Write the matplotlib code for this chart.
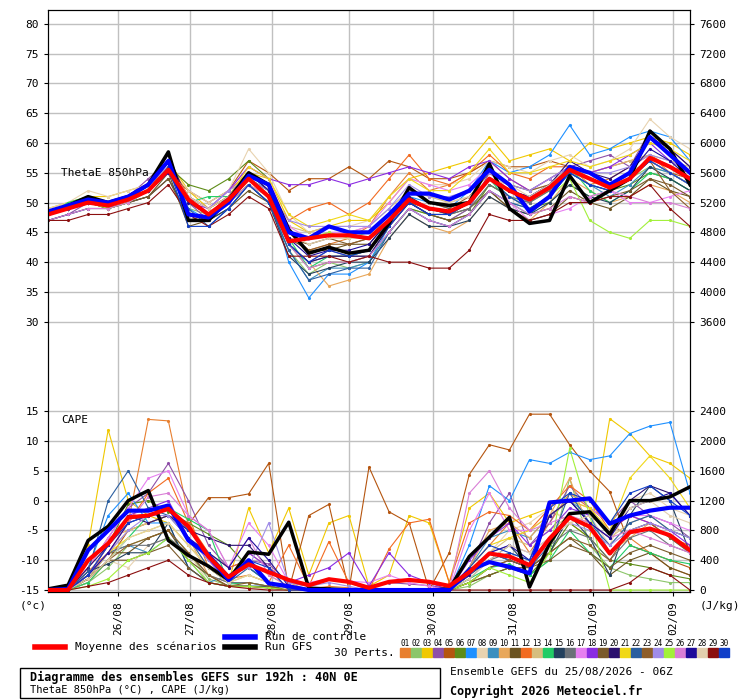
import matplotlib
matplotlib.use("Agg")
import matplotlib.pyplot as plt
import numpy as np

hours = np.arange(0, 193, 6)
date_labels = ["26/08", "27/08", "28/08", "29/08", "30/08", "31/08", "01/09", "02/09"]
date_hours = [21, 42.5, 67, 90, 115, 139, 163, 187]

colors = ["#e87f2f", "#8cc66a", "#f0c800", "#8e4fa8", "#b5550f", "#5e8c18", "#1e90ff", "#e8d3b0",
          "#3b8fbf", "#e8a75a", "#6b5320", "#f26b21", "#d6be7e", "#22cc66", "#23415e", "#6b7178",
          "#e680f0", "#8a2be2", "#7a5a2a", "#2a0f6e", "#f0d818", "#2b5fa0", "#8e5e2a", "#a08ce8",
          "#a2f03a", "#d97ed6", "#1e0a9a", "#e2cfae", "#8b0f0f", "#0f3ec9"]

theta_mean = [48,49,50,49.5,50.5,52,55.5,50.5,48,50.5,54,51,43.5,44,44.5,44.5,44,47,50.5,49,48.5,50,54,52,50.5,52.5,55.5,54,52.5,54,57.5,56,54]
theta_ctrl = [48.5,49.5,50.5,50,51,53,57,48,47.5,50,54.5,53,45,44,46,45,45,48,51.5,51.5,50.5,52,55.5,53,48.5,51,56,55,53,55,61,58,55]
theta_gfs = [48,49.5,51,50,51,53,58.5,47,47,50.5,55,53,45.5,41.5,42.5,41.5,42,46.5,52.5,50,49.5,50,56.5,49,46.5,47,54.5,50,52,54,62,59,53]

theta_members = [
[48,49,51,50,51,53,57,51,49,52,55,53,45,42,43,44,46,51,55,52,53,55,57,54,52,54,56,53,54,56,58,55,53],
[48,49,50,49,50,52,56,49,48,50,53,50,42,38,40,39,40,45,49,48,47,49,53,51,50,52,55,54,53,54,56,55,53],
[49,50,51,51,52,53,57,52,49,51,55,54,47,45,46,47,47,50,54,55,56,57,61,57,58,59,57,60,59,60,61,60,58],
[47,48,50,49,51,54,57,50,47,51,55,52,43,40,42,41,42,46,50,48,47,49,55,52,50,53,56,57,58,56,62,59,56],
[48,49,50,50,51,52,55,52,50,52,57,55,52,54,54,56,54,57,56,54,54,55,57,56,56,57,56,54,53,55,57,55,54],
[48,49,50,50,51,52,56,53,52,54,57,54,43,39,40,40,41,45,49,48,47,48,53,51,49,50,53,51,52,53,55,54,52],
[48,49,51,50,51,53,57,49,47,50,54,52,40,34,38,38,40,46,51,50,49,52,57,55,56,58,63,58,59,61,62,61,57],
[49,50,52,51,52,53,56,52,50,52,59,55,48,45,46,46,47,51,54,53,53,54,57,56,55,57,58,56,57,59,64,61,59],
[47,48,49,49,50,52,55,50,48,50,53,50,42,37,39,39,40,45,49,47,46,48,52,50,49,51,55,53,51,53,56,55,53],
[48,49,50,50,51,52,55,50,48,50,53,51,43,40,36,37,38,44,48,46,45,47,51,49,47,50,54,52,50,51,53,52,50],
[48,49,50,49,50,51,55,46,47,49,52,50,44,42,42,43,43,47,50,49,48,49,52,49,48,49,52,50,49,51,54,52,51],
[48,49,50,50,51,52,57,51,49,51,54,52,47,49,50,48,50,54,58,54,53,55,58,55,54,56,56,55,56,57,58,56,55],
[48,49,50,50,51,52,55,51,49,51,55,53,46,45,46,45,46,49,52,51,50,51,54,53,52,53,55,55,56,57,58,57,56],
[48,50,51,50,51,52,56,50,51,51,54,52,44,39,41,41,42,47,51,49,48,50,54,50,48,51,56,52,50,52,55,54,52],
[47,48,49,49,50,51,54,48,47,49,53,50,41,38,39,40,40,44,48,46,46,47,51,49,48,50,53,51,50,52,56,54,52],
[48,49,50,50,51,52,55,50,48,50,54,51,43,40,41,41,41,46,50,48,48,49,53,51,50,52,55,53,52,54,57,55,53],
[48,49,50,50,51,53,56,51,49,52,56,54,46,44,45,45,46,50,54,53,52,53,56,50,47,48,49,51,52,50,50,51,52],
[48,49,50,50,51,53,56,50,49,52,56,54,53,53,54,53,54,55,56,55,54,56,57,54,52,54,56,55,56,58,60,57,55],
[48,49,50,49,50,51,54,47,48,50,53,50,44,43,44,43,44,47,50,48,47,48,52,49,47,48,51,50,51,52,54,53,51],
[48,49,50,50,51,53,58,50,48,51,55,52,43,40,41,41,41,46,50,48,48,50,54,52,51,53,57,55,54,56,61,59,56],
[48,49,50,50,51,52,56,50,48,51,56,54,48,46,47,48,47,51,54,52,52,55,59,55,55,56,57,56,57,58,60,59,57],
[48,49,50,50,51,52,55,49,46,49,53,50,42,37,38,39,39,45,49,47,46,48,52,50,49,51,55,53,52,54,57,55,53],
[48,49,50,50,51,52,56,51,49,51,55,52,45,42,43,43,44,48,52,50,49,51,55,53,52,53,56,54,53,55,57,52,49],
[48,49,50,50,51,52,56,51,49,52,54,52,47,46,46,46,46,49,53,51,51,52,55,53,52,54,56,55,55,56,58,57,55],
[48,49,50,49,50,52,56,50,48,50,53,51,45,44,45,44,45,48,51,49,48,50,54,51,49,51,54,47,45,44,47,47,46],
[47,48,49,49,50,52,55,50,48,50,53,51,43,39,40,40,41,45,49,47,46,48,52,50,48,49,51,50,52,51,50,50,49],
[48,49,50,50,51,52,55,50,48,51,55,52,44,41,42,42,43,47,51,49,48,50,54,52,51,53,56,54,53,55,59,57,54],
[48,49,51,50,51,53,56,51,49,51,55,53,45,43,44,44,44,48,52,50,50,51,54,53,51,53,56,54,53,55,57,55,53],
[47,47,48,48,49,50,53,48,46,48,51,49,41,41,41,40,41,40,40,39,39,42,48,47,47,48,50,50,51,51,53,49,46],
[48,49,50,50,51,52,56,46,46,49,53,50,43,40,42,41,42,46,50,48,48,50,54,51,49,51,55,53,52,54,57,55,53],
]

cape_mean = [0,0,400,625,975,1000,1090,850,450,175,345,240,135,65,145,110,30,110,135,110,55,240,490,450,335,690,975,850,490,775,825,735,535]
cape_ctrl = [0,15,535,800,1065,1065,1135,665,465,135,400,90,50,0,0,0,0,0,0,0,0,265,375,310,225,1175,1200,1230,890,1000,1065,1105,1105]
cape_gfs = [15,65,665,855,1200,1335,665,465,320,135,510,480,910,25,15,0,0,0,0,0,15,450,710,975,40,625,1025,1050,750,1200,1200,1250,1385]

cape_members = [
[0,0,250,500,900,2290,2270,1000,300,150,200,100,20,10,50,30,0,0,0,0,0,300,600,900,500,900,1300,1100,900,700,500,300,200],
[0,0,100,300,600,700,800,500,150,60,50,20,10,0,0,0,0,0,0,0,0,50,200,300,200,400,1500,600,300,200,150,100,100],
[0,10,600,2150,1200,1000,900,600,300,100,1100,500,1100,200,900,1000,50,200,1000,900,100,1100,1300,900,1000,1100,900,700,2300,2100,1800,1700,1500],
[0,0,300,700,1100,1300,1700,1200,600,300,400,350,100,50,150,100,50,100,80,60,20,300,900,1300,600,900,1400,1100,900,1200,1000,900,700],
[0,0,100,400,800,900,1000,880,1240,1240,1290,1700,0,1000,1150,0,1650,1050,900,0,500,1550,1950,1880,2360,2360,1950,1600,1320,600,500,400,300],
[0,0,200,600,1150,1200,1050,900,750,600,300,100,50,20,0,0,0,0,0,0,0,100,200,300,200,500,900,700,400,350,300,200,150],
[0,0,300,1000,1300,900,900,300,100,50,50,50,0,0,0,0,0,0,0,0,0,600,1400,1200,1750,1700,1850,1750,1800,2100,2200,2250,1300],
[0,0,100,400,300,600,700,500,100,50,30,20,0,0,0,0,0,0,0,0,0,200,500,800,900,1100,900,1000,600,1200,1300,1100,1000],
[0,0,200,500,600,500,700,400,100,200,300,100,0,0,0,0,0,0,0,0,0,300,700,800,700,1000,1200,1000,500,800,900,700,500],
[0,0,300,700,800,900,1000,700,200,100,500,300,100,0,0,0,0,0,0,0,0,300,800,900,700,1000,1500,800,500,700,900,800,700],
[0,0,150,500,500,700,800,400,200,50,50,30,0,0,0,0,0,0,0,0,0,100,300,400,300,500,700,500,200,400,500,300,200],
[0,0,200,600,900,1300,1500,900,500,300,400,100,600,50,650,100,0,550,900,950,100,900,1050,1000,800,1100,1400,1200,800,1000,900,700,600],
[0,0,150,500,800,900,1000,700,300,100,400,200,50,0,0,0,0,0,0,0,0,200,500,700,600,800,1000,900,700,900,1000,800,700],
[0,0,100,400,700,1000,1100,950,800,80,100,50,20,0,0,0,0,0,0,0,0,150,300,350,200,400,800,500,300,600,500,400,350],
[0,0,250,350,500,500,900,300,100,50,50,50,0,0,0,0,0,0,0,0,0,200,400,600,300,500,1000,700,200,1000,1400,1200,500],
[0,0,200,500,600,600,700,500,200,100,100,50,0,0,0,0,0,0,0,0,0,150,400,500,400,600,800,700,400,700,800,600,500],
[0,0,300,700,1100,1500,1600,1000,800,300,900,600,100,100,150,120,100,200,100,50,0,800,1300,800,800,1000,1200,1100,900,1000,1000,900,800],
[0,0,200,600,1000,1100,1200,700,400,100,500,300,100,200,300,500,50,500,200,100,0,400,700,900,600,800,1100,1000,800,1000,900,800,600],
[0,0,150,400,400,500,600,300,100,50,50,30,0,0,0,0,0,0,0,0,0,100,200,300,300,400,600,500,300,500,600,500,400],
[0,0,300,600,1000,900,1000,800,700,600,600,300,0,0,0,0,0,0,0,0,0,200,500,400,300,1000,1200,900,700,1200,1400,1300,1000],
[0,0,200,500,700,800,900,600,300,100,200,100,0,0,0,0,0,0,0,0,0,300,600,700,800,1000,1200,1100,800,1500,1800,1500,1100],
[0,0,250,1200,1600,1100,1000,700,300,100,300,100,0,0,0,0,0,0,0,0,0,200,500,400,300,600,1300,900,600,900,1000,800,700],
[0,0,150,400,600,700,800,500,200,50,100,50,0,0,0,0,0,0,0,0,0,100,300,400,300,500,700,600,400,800,900,700,500],
[0,0,200,500,800,1000,1000,700,400,200,300,900,100,50,100,50,0,0,0,0,0,200,500,600,500,700,900,800,600,800,900,800,700],
[0,0,50,150,400,500,700,400,100,50,50,30,0,0,0,0,0,0,0,0,0,100,300,200,100,500,1900,1000,0,0,0,0,0],
[0,0,200,500,900,1250,1300,1000,800,300,700,200,50,0,0,0,0,0,0,0,0,1300,1600,1100,800,900,1000,900,700,800,700,600,500],
[0,0,200,500,900,1000,1100,700,500,300,700,400,50,0,0,0,0,0,0,0,0,200,500,600,400,1000,1200,900,700,1100,1200,1300,1000],
[0,0,150,400,700,800,900,600,300,100,200,100,0,0,0,0,0,0,0,0,0,150,400,600,500,700,900,1000,800,1100,1200,1000,900],
[0,0,50,100,200,300,400,200,100,50,20,0,0,0,0,0,0,0,0,0,0,0,0,0,0,0,0,0,0,100,300,200,0],
[0,0,200,600,900,1000,1100,800,500,200,400,300,0,0,0,0,0,0,0,0,0,300,600,500,400,1100,1300,1200,900,1300,1400,1200,1000],
]

left_ticks = [-15,-10,-5,0,5,10,15,30,35,40,45,50,55,60,65,70,75,80]
right_ticks = [0,400,800,1200,1600,2000,2400,3600,4000,4400,4800,5200,5600,6000,6400,6800,7200,7600]

plt.rcParams['font.family'] = ['DejaVu Sans Mono', 'DejaVu Sans']
fig = plt.figure(figsize=(7.4, 7.0), dpi=100)
ax = fig.add_axes([48/740, 108/700, 642/740, 582/700])
ylo, yhi = -15.33, 82.3
ax.set_xlim(0, 192)
ax.set_ylim(ylo, yhi)
ax2 = ax.twinx()
ax2.set_ylim((ylo + 15) * 80, (yhi + 15) * 80)

for v in left_ticks:
    ax.axhline(v, color="#c0c0c0", lw=1, zorder=0)
for h in date_hours:
    ax.axvline(h, color="#c0c0c0", lw=1, zorder=0)

for m, c in zip(theta_members, colors):
    ax.plot(hours, m, color=c, lw=0.8, marker='.', ms=2.5, zorder=2)
for m, c in zip(cape_members, colors):
    ax2.plot(hours, m, color=c, lw=0.8, marker='.', ms=2.5, zorder=2)

ax.plot(hours, theta_gfs, color="black", lw=2.5, zorder=3)
ax.plot(hours, theta_ctrl, color="#0000ff", lw=3, zorder=4)
ax.plot(hours, theta_mean, color="#ff0000", lw=3, zorder=5)
ax2.plot(hours, cape_gfs, color="black", lw=2.5, zorder=3)
ax2.plot(hours, cape_ctrl, color="#0000ff", lw=3, zorder=4)
ax2.plot(hours, cape_mean, color="#ff0000", lw=3, zorder=5)

ax.set_yticks(left_ticks)
ax.set_yticklabels([str(v) for v in left_ticks], fontsize=8)
ax2.set_yticks(right_ticks)
ax2.set_yticklabels([str(v) for v in right_ticks], fontsize=8)
ax.set_xticks(date_hours)
ax.set_xticklabels(date_labels, rotation=90, fontsize=8)
ax.tick_params(length=3)
ax2.tick_params(length=3)

ax.text(4, 55, "ThetaE 850hPa", fontsize=8, va="center")
ax.text(4, 13.5, "CAPE", fontsize=8, va="center")

fig.text(20/740, 1 - 606/700, "(°c)", fontsize=8, va="center")
fig.text(700/740, 1 - 606/700, "(J/kg)", fontsize=8, va="center")

def fx(x): return x / 740
def fy(y): return 1 - y / 700

fig.add_artist(plt.Line2D([fx(35), fx(65)], [fy(647), fy(647)], color="#ff0000", lw=4))
fig.text(fx(75), fy(647), "Moyenne des scénarios", fontsize=8, va="center")
fig.add_artist(plt.Line2D([fx(225), fx(255)], [fy(637), fy(637)], color="#0000ff", lw=4))
fig.text(fx(265), fy(637), "Run de contrôle", fontsize=8, va="center")
fig.add_artist(plt.Line2D([fx(225), fx(255)], [fy(647), fy(647)], color="black", lw=4))
fig.text(fx(265), fy(647), "Run GFS", fontsize=8, va="center")
fig.text(fx(395), fy(653), "30 Perts.", fontsize=8, va="center", ha="right")
for i, c in enumerate(colors):
    x0 = 400 + i * 11
    fig.text(fx(x0 + 5), fy(644), "%02d" % (i + 1), fontsize=5.5, va="center", ha="center")
    fig.add_artist(plt.Rectangle((fx(x0), fy(657)), fx(10), 9/700, color=c))

fig.add_artist(plt.Rectangle((fx(20), fy(698)), fx(420), 30/700, fill=False, ec="black", lw=1))
fig.text(fx(30), fy(677), "Diagramme des ensembles GEFS sur 192h : 40N 0E", fontsize=8.5, fontweight="bold", va="center")
fig.text(fx(30), fy(690), "ThetaE 850hPa (°C) , CAPE (J/kg)", fontsize=7.5, va="center")
fig.text(fx(450), fy(672), "Ensemble GEFS du 25/08/2026 - 06Z", fontsize=8, va="center")
fig.text(fx(450), fy(691), "Copyright 2026 Meteociel.fr", fontsize=8.5, fontweight="bold", va="center")

fig.savefig("out.png", dpi=100)
